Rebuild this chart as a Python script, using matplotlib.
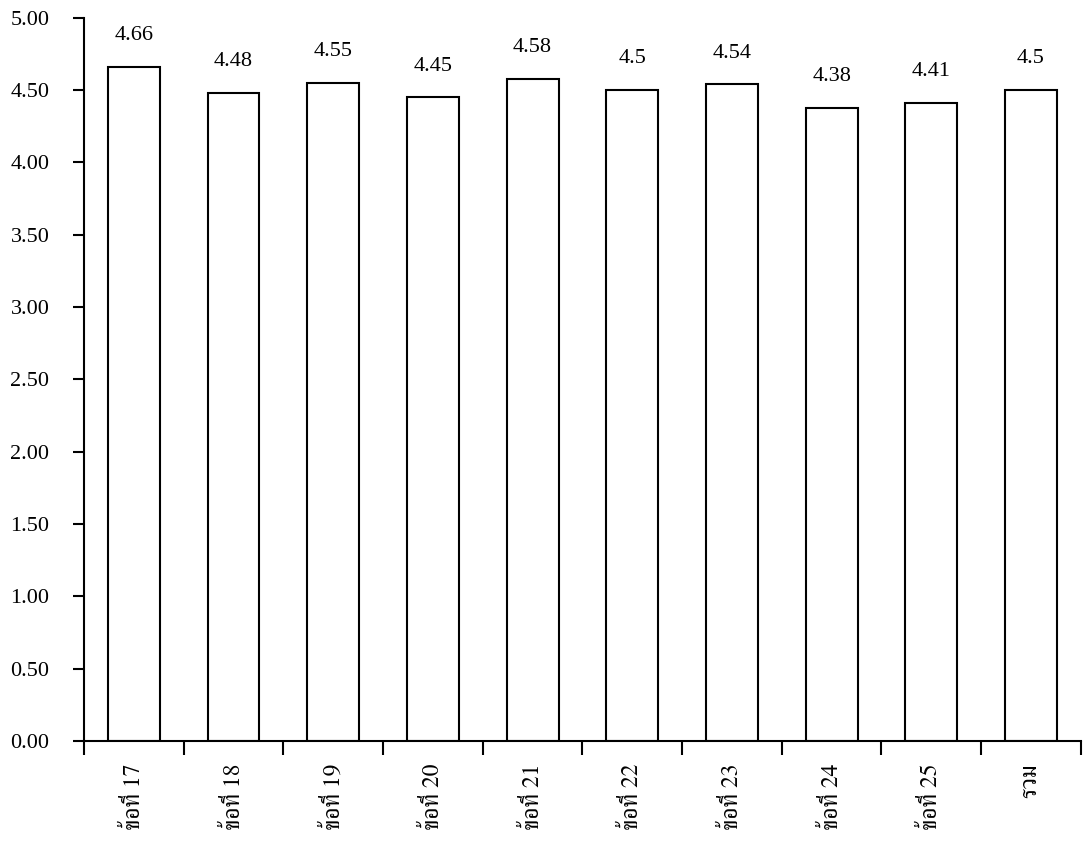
import numpy as np
import matplotlib
matplotlib.use('Agg')
import matplotlib.pyplot as plt

# FreeSerif is Times-like and has Thai glyphs
plt.rcParams['font.family'] = ['Liberation Serif', 'FreeSerif', 'DejaVu Sans']

categories = ['ข้อที่ 17', 'ข้อที่ 18', 'ข้อที่ 19', 'ข้อที่ 20', 'ข้อที่ 21',
              'ข้อที่ 22', 'ข้อที่ 23', 'ข้อที่ 24', 'ข้อที่ 25', 'รวม']
values = [4.66, 4.48, 4.55, 4.45, 4.58, 4.5, 4.54, 4.38, 4.41, 4.5]
value_labels = ['4.66', '4.48', '4.55', '4.45', '4.58', '4.5', '4.54', '4.38', '4.41', '4.5']
yticks = np.arange(0, 5.01, 0.5)

fig = plt.figure(figsize=(10.83, 8.48), dpi=100)
ax = fig.add_axes([0.0776, 0.126, 0.9204, 0.853])

x = np.arange(len(categories))
ax.bar(x, values, width=0.52, color='white', edgecolor='black', linewidth=1.5)

for xi, v, lab in zip(x, values, value_labels):
    ax.text(xi, v + 0.15, lab, ha='center', va='bottom', fontsize=16)

ax.set_xlim(-0.5, len(categories) - 0.5)
ax.set_ylim(0, 5)
ax.set_yticks(yticks)
ax.set_yticklabels([f'{t:.2f}' for t in yticks], fontsize=16)

ax.set_xticks(x)
ax.set_xticklabels(categories, rotation=90, fontsize=17, va='top',
                   family=['FreeSerif', 'Liberation Serif'])
ax.set_xticks(np.arange(-0.5, len(categories)), minor=True)
ax.tick_params(axis='x', which='major', length=0, pad=16)
ax.tick_params(axis='x', which='minor', length=10, width=1.5, direction='out')
ax.tick_params(axis='y', length=8, width=1.5, direction='out', pad=17)

for s in ['top', 'right']:
    ax.spines[s].set_visible(False)
for s in ['left', 'bottom']:
    ax.spines[s].set_linewidth(1.5)

fig.savefig('out.png', dpi=100)
